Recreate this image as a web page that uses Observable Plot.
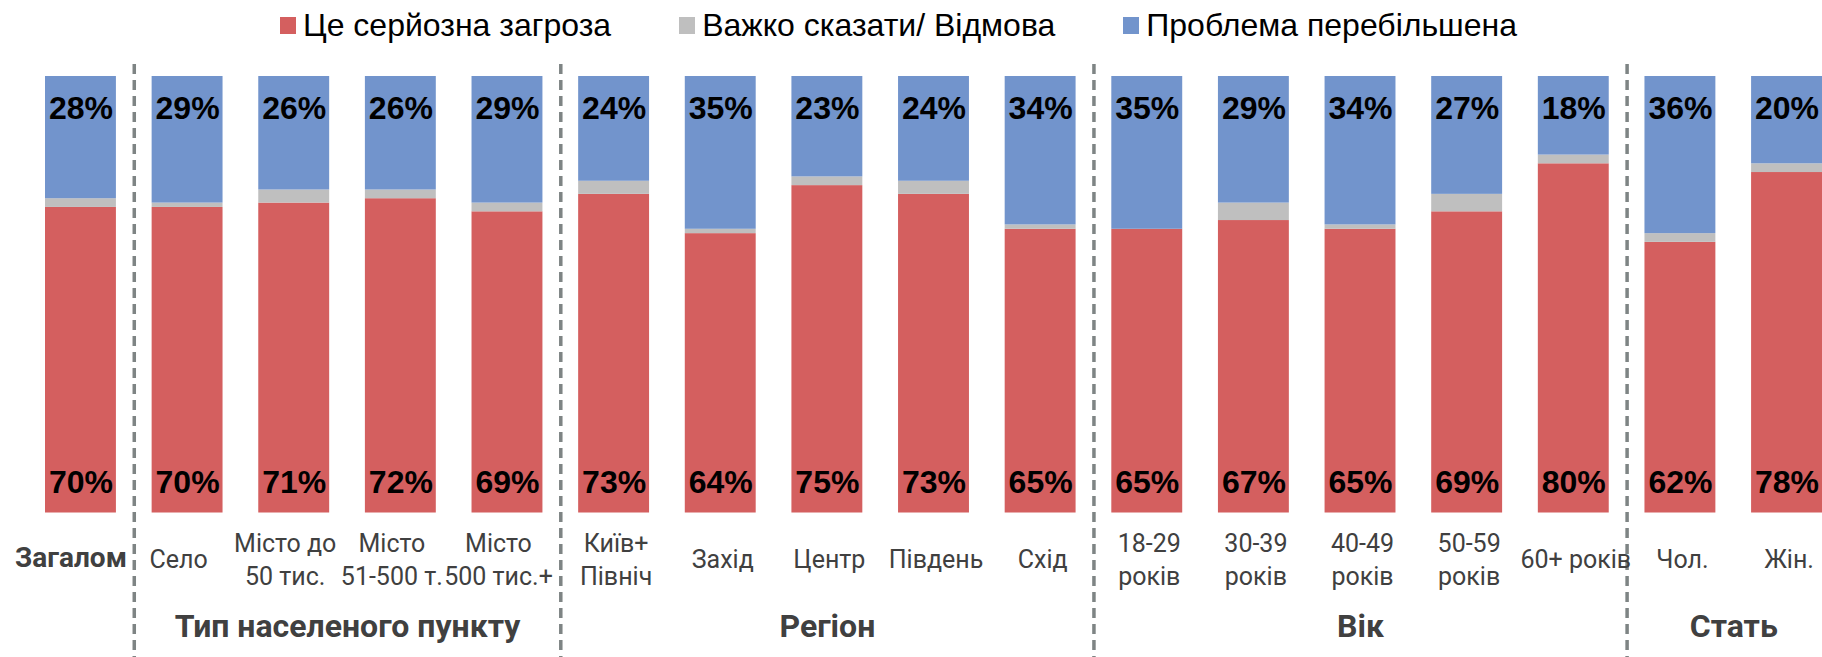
<!DOCTYPE html>
<html><head><meta charset="utf-8">
<script src="https://cdn.jsdelivr.net/npm/d3@7"></script>
<script src="https://cdn.jsdelivr.net/npm/@observablehq/plot@0.6"></script>
<style>
html,body{margin:0;padding:0;background:#fff}
body{width:1822px;height:657px;overflow:hidden}
#legend{height:50px;display:flex;gap:68px;padding-left:280px;font-family:"Liberation Sans",Arial,sans-serif;font-size:32px;line-height:44px;color:#000;box-sizing:border-box}
.item{display:flex;align-items:center;gap:7px;white-space:nowrap}
.sw{width:16px;height:17px;display:inline-block}
#chart svg{display:block}
</style></head><body>
<div id="legend"></div>
<div id="chart"></div>
<script>
// ---- data ----
const categories = ["Загалом","Село","Місто до\n50 тис.","Місто\n51-500 т.","Місто\n500 тис.+",
  "Київ+\nПівніч","Захід","Центр","Південь","Схід",
  "18-29\nроків","30-39\nроків","40-49\nроків","50-59\nроків","60+ років",
  "Чол.","Жін."];
const groupOf = ["","Тип населеного пункту","Тип населеного пункту","Тип населеного пункту","Тип населеного пункту",
  "Регіон","Регіон","Регіон","Регіон","Регіон",
  "Вік","Вік","Вік","Вік","Вік","Стать","Стать"];
const groupNames = ["Тип населеного пункту","Регіон","Вік","Стать"];
const threat      = [70,70,71,72,69,73,64,75,73,65,65,67,65,69,80,62,78];
const unsure      = [2,1,3,2,2,3,1,2,3,1,0,4,1,4,2,2,2];
const exaggerated = [28,29,26,26,29,24,35,23,24,34,35,29,34,27,18,36,20];
const seriesNames  = ["Це серйозна загроза","Важко сказати/ Відмова","Проблема перебільшена"];
const seriesColors = ["#D45F5F","#BFBFBF","#7294CC"];

// ---- legend ----
const lg = document.getElementById("legend");
seriesNames.forEach((s,i)=>{
  const it = document.createElement("div"); it.className="item";
  const sw = document.createElement("span"); sw.className="sw"; sw.style.background=seriesColors[i];
  const tx = document.createElement("span"); tx.textContent=s;
  it.appendChild(sw); it.appendChild(tx); lg.appendChild(it);
});

// ---- layout ----
const W = 1822, H = 607;
const mL = 45, mR = 0, mT = 26, mB = 144.5;
const padIn = 0.335;
const xb = d3.scaleBand(categories, [mL, W - mR]).paddingInner(padIn).paddingOuter(0).align(0);
const step = xb.step(), bw = xb.bandwidth();

const rows = [];
categories.forEach((c,i)=>{
  rows.push({cat:c, series:seriesNames[0], value:threat[i]});
  rows.push({cat:c, series:seriesNames[1], value:unsure[i]});
  rows.push({cat:c, series:seriesNames[2], value:exaggerated[i]});
});
const cats = categories.map((c,i)=>({cat:c, group:groupOf[i], top:exaggerated[i], bottom:threat[i]}));
const groupStarts = groupNames.map(g => categories[groupOf.indexOf(g)]);

const labelFont = "Roboto, sans-serif";
const numFont = "'Liberation Sans', Arial, sans-serif";

const groupMarks = groupNames.map(g => {
  const idx = groupOf.map((v,i)=>v===g?i:-1).filter(i=>i>=0);
  const first = categories[idx[0]], last = categories[idx[idx.length-1]];
  const cx = (xb(first) + xb(last) + bw) / 2;
  return Plot.text([g], {frameAnchor:"bottom-left", dx: cx - mL, dy: 114, text: d=>d,
    fontFamily: labelFont, fontWeight: "bold", fontSize: 32, fill: "#404040", textAnchor: "middle", lineAnchor:"middle"});
});

const plot = Plot.plot({
  width: W, height: H,
  marginLeft: mL, marginRight: mR, marginTop: mT, marginBottom: mB,
  style: {background: "#fff", overflow: "visible", fontFamily: labelFont},
  x: {type: "band", domain: categories, paddingInner: padIn, paddingOuter: 0, align: 0, round: false, axis: null},
  y: {domain: [0, 100], axis: null},
  color: {domain: seriesNames, range: seriesColors},
  marks: [
    Plot.barY(rows, {x: "cat", y: "value", fill: "series", order: seriesNames}),
    Plot.ruleX(groupStarts, {x: d=>d, dx: -step/2, stroke: "#7E8484", strokeWidth: 3.5, strokeDasharray: "10,6",
      insetTop: -12, insetBottom: -150}),
    Plot.text(cats, {x: "cat", frameAnchor: "top", dy: 32.5, text: d=>d.top + "%",
      fontFamily: numFont, fontWeight: "bold", fontSize: 32, fill: "#000", lineAnchor: "middle"}),
    Plot.text(cats, {x: "cat", frameAnchor: "bottom", dy: -30.5, text: d=>d.bottom + "%",
      fontFamily: numFont, fontWeight: "bold", fontSize: 32, fill: "#000", lineAnchor: "middle"}),
    Plot.text(cats.filter(d=>d.group===""), {x: "cat", frameAnchor: "bottom", dy: 45, dx: -10, text: "cat",
      fontFamily: labelFont, fontWeight: "bold", fontSize: 28, fill: "#404040", lineAnchor: "middle"}),
    Plot.text(cats.filter(d=>d.group===groupNames[0]), {x: "cat", frameAnchor: "bottom", dy: 45, dx: -9, text: "cat",
      fontFamily: labelFont, fontSize: 25, fill: "#404040", lineAnchor: "middle", lineHeight: 1.3}),
    Plot.text(cats.filter(d=>d.group!=="" && d.group!==groupNames[0]), {x: "cat", frameAnchor: "bottom", dy: 45, dx: 2, text: "cat",
      fontFamily: labelFont, fontSize: 25, fill: "#404040", lineAnchor: "middle", lineHeight: 1.3}),
    ...groupMarks
  ]
});
document.getElementById("chart").appendChild(plot);
</script>
</body></html>
